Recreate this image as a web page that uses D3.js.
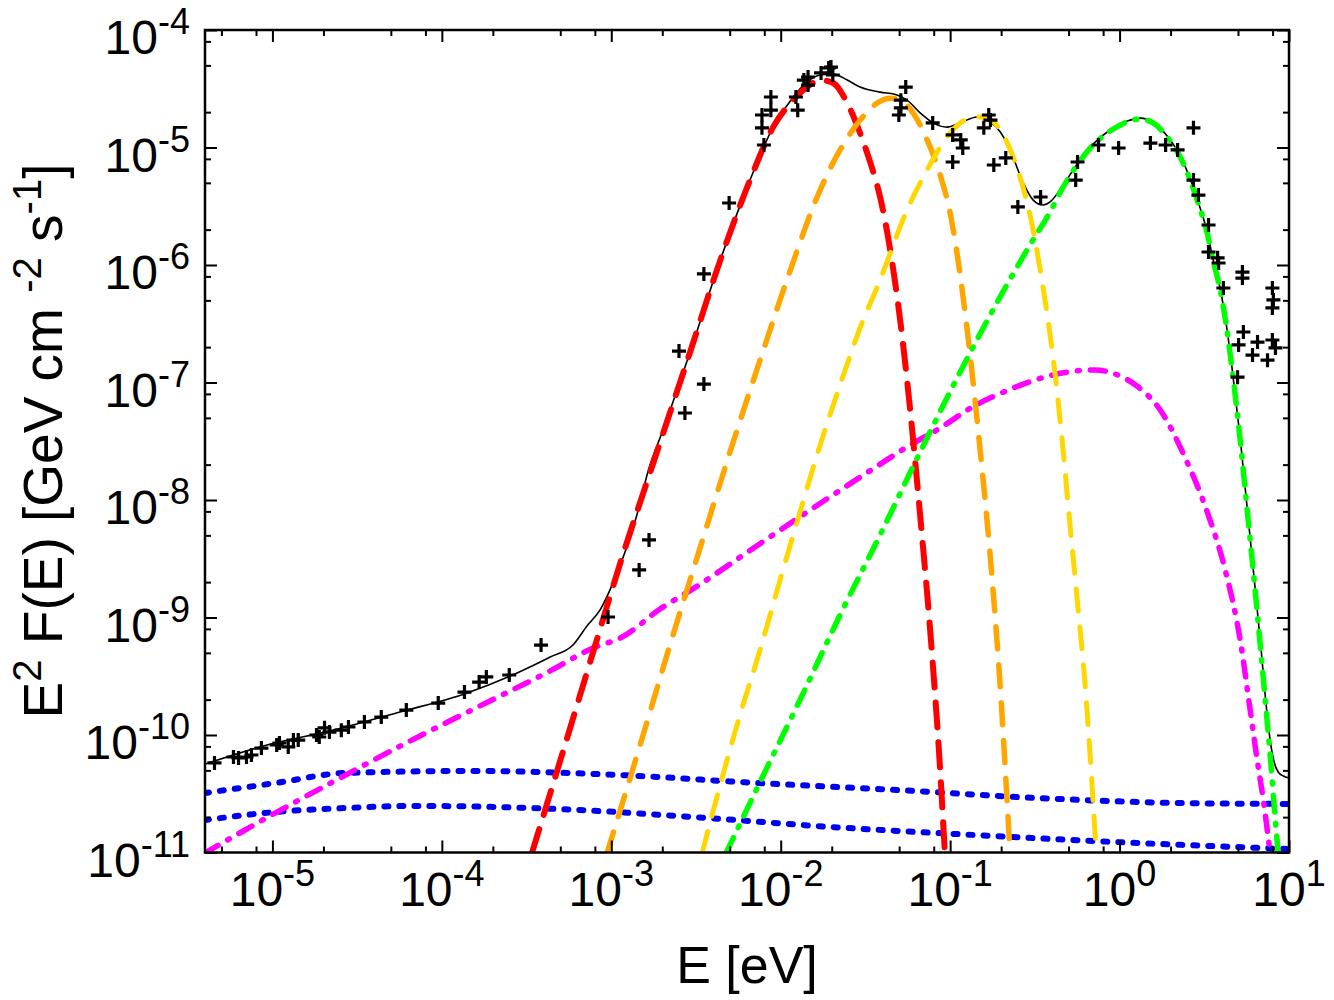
<!DOCTYPE html>
<html>
<head>
<meta charset="utf-8">
<script src="https://cdn.jsdelivr.net/npm/d3@7"></script>
<style>
  body { margin: 0; background: #fff; }
  svg { display: block; font-family: "Liberation Sans", Arial, Helvetica, sans-serif; }
  text { white-space: pre; }
</style>
</head>
<body>
<svg id="sed-chart"></svg>
<script>
// tick values and the exponents shown in the labels
var xTicks = [1e-5, 1e-4, 1e-3, 1e-2, 1e-1, 1, 10];
var xTickExps = ["-5", "-4", "-3", "-2", "-1", "0", "1"];
var yTicks = [1e-11, 1e-10, 1e-9, 1e-8, 1e-7, 1e-6, 1e-5, 1e-4];
var yTickExps = ["-11", "-10", "-9", "-8", "-7", "-6", "-5", "-4"];
var minorMantissas = [2, 5, 8];

// measured points [E (eV), E^2 F(E)]
var dataPoints = [
  [4.55e-6, 5.78e-11], [5.89e-6, 6.50e-11], [6.31e-6, 6.37e-11], [7.03e-6, 6.50e-11],
  [7.52e-6, 6.76e-11], [8.61e-6, 7.74e-11], [1.06e-5, 8.22e-11], [1.10e-5, 8.55e-11],
  [1.24e-5, 7.91e-11], [1.33e-5, 9.06e-11], [1.42e-5, 9.06e-11], [1.82e-5, 1.00e-10],
  [1.89e-5, 9.62e-11], [2.03e-5, 1.15e-10], [2.17e-5, 1.06e-10], [2.55e-5, 1.10e-10],
  [2.81e-5, 1.17e-10], [3.49e-5, 1.29e-10], [4.39e-5, 1.42e-10], [6.17e-5, 1.63e-10],
  [9.52e-5, 1.87e-10], [1.36e-4, 2.32e-10], [1.66e-4, 2.82e-10], [1.83e-4, 3.12e-10],
  [2.50e-4, 3.24e-10], [3.85e-4, 5.83e-10],
  [9.57e-4, 1.01e-9], [1.46e-3, 2.54e-9], [1.67e-3, 4.57e-9], [2.51e-3, 1.85e-7],
  [2.72e-3, 5.5e-8], [3.52e-3, 9.7e-8], [3.52e-3, 8.4e-7], [4.96e-3, 3.37e-6],
  [7.96e-3, 1.05e-5], [7.75e-3, 1.47e-5], [7.75e-3, 1.89e-5], [8.75e-3, 2.08e-5],
  [8.75e-3, 2.69e-5], [1.26e-2, 2.08e-5], [1.23e-2, 2.69e-5], [1.37e-2, 3.75e-5],
  [1.45e-2, 3.98e-5], [1.45e-2, 3.40e-5], [1.73e-2, 4.31e-5], [1.92e-2, 4.75e-5],
  [2.03e-2, 4.14e-5], [1.98e-2, 4.84e-5], [5.12e-2, 2.17e-5], [4.98e-2, 1.89e-5],
  [5.12e-2, 2.53e-5], [5.47e-2, 3.27e-5], [7.89e-2, 1.62e-5], [0.1035, 1.28e-5],
  [0.1155, 1.16e-5], [0.1187, 9.9e-6], [0.1035, 7.53e-6], [0.169, 1.89e-5],
  [0.173, 1.71e-5], [0.158, 1.47e-5], [0.181, 7.10e-6], [0.213, 8.15e-6],
  [0.251, 3.12e-6], [0.342, 3.79e-6],
  [0.551, 5.28e-6], [0.565, 7.53e-6], [0.751, 1.05e-5], [0.987, 9.9e-6],
  [1.52, 1.09e-5], [1.87, 1.05e-5], [2.20, 9.53e-6], [2.73, 1.47e-5],
  [2.73, 5.28e-6], [2.92, 3.94e-6], [3.35, 2.19e-6], [3.35, 1.29e-6],
  [3.79, 1.15e-6], [3.84, 1.04e-6], [4.10, 6.37e-7], [5.31, 8.7e-7],
  [5.31, 7.74e-7], [7.98, 6.37e-7], [8.09, 5.04e-7], [7.98, 4.31e-7],
  [5.38, 2.69e-7], [5.04, 2.09e-7], [6.52, 2.21e-7], [6.09, 1.71e-7],
  [7.98, 2.30e-7], [8.32, 1.97e-7], [7.47, 1.55e-7], [4.97, 1.11e-7]
];

// total model (thin black line)
var totalModel = [
  [4.0e-6, 5.66e-11], [9.29e-6, 8.22e-11], [2.28e-5, 1.10e-10], [5.66e-5, 1.57e-10],
  [1.41e-4, 2.28e-10], [2.78e-4, 3.37e-10], [4.36e-4, 4.61e-10], [5.94e-4, 5.83e-10],
  [7.19e-4, 8.47e-10], [8.59e-4, 1.16e-9], [1.04e-3, 2.08e-9], [1.40e-3, 7.03e-9],
  [1.67e-3, 1.87e-8], [2.02e-3, 3.94e-8], [2.92e-3, 1.82e-7], [4.51e-3, 1.22e-6],
  [6.59e-3, 5.28e-6], [9.02e-3, 1.49e-5], [1.14e-2, 2.49e-5], [1.43e-2, 3.61e-5],
  [1.71e-2, 4.14e-5], [2.04e-2, 4.22e-5], [2.47e-2, 3.75e-5], [2.94e-2, 3.27e-5],
  [3.86e-2, 2.96e-5], [4.86e-2, 2.80e-5], [5.57e-2, 2.53e-5], [6.65e-2, 1.97e-5],
  [7.94e-2, 1.62e-5], [9.59e-2, 1.49e-5], [0.1146, 1.62e-5], [0.1442, 1.82e-5],
  [0.1722, 1.65e-5], [0.1972, 1.36e-5], [0.226, 9.53e-6], [0.270, 4.99e-6],
  [0.309, 3.57e-6], [0.354, 3.24e-6], [0.389, 3.44e-6], [0.465, 4.80e-6],
  [0.562, 7.24e-6], [0.698, 1.07e-5], [0.879, 1.41e-5], [1.109, 1.68e-5],
  [1.321, 1.78e-5], [1.578, 1.65e-5], [1.910, 1.25e-5], [2.280, 8.47e-6],
  [2.61, 5.40e-6], [2.91, 3.44e-6], [3.29, 1.91e-6], [3.56, 1.12e-6],
  [3.93, 6.25e-7], [4.26, 3.15e-7], [4.62, 1.30e-7], [5.15, 3.37e-8],
  [5.74, 7.03e-9], [6.31, 1.78e-9], [6.85, 5.28e-10], [7.33, 1.80e-10],
  [7.74, 9.06e-11], [8.17, 5.89e-11], [8.63, 4.84e-11], [9.25, 4.48e-11], [10, 4.31e-11]
];

// components
var redComponent = [
  [3.40e-4, 9.9e-12], [4.99e-4, 6.01e-11], [7.50e-4, 4.18e-10], [1.16e-3, 3.27e-9],
  [1.81e-3, 2.28e-8], [2.92e-3, 1.82e-7], [4.51e-3, 1.22e-6], [6.59e-3, 5.28e-6],
  [9.02e-3, 1.49e-5], [1.14e-2, 2.39e-5], [1.43e-2, 3.27e-5], [1.71e-2, 3.75e-5],
  [2.04e-2, 3.54e-5], [2.47e-2, 2.39e-5], [2.94e-2, 1.33e-5], [3.37e-2, 7.53e-6],
  [3.86e-2, 3.79e-6], [4.43e-2, 1.34e-6], [5.07e-2, 3.40e-7], [5.81e-2, 5.83e-8],
  [6.65e-2, 7.45e-9], [7.62e-2, 7.83e-10], [8.73e-2, 5.04e-11], [9.33e-2, 9.3e-12]
];
var orangeComponent = [
  [9.44e-4, 9.9e-12], [1.48e-3, 8.22e-11], [2.22e-3, 5.83e-10], [3.34e-3, 3.90e-9],
  [5.02e-3, 2.56e-8], [7.55e-3, 1.55e-7], [1.14e-2, 9.06e-7], [1.64e-2, 3.79e-6],
  [2.24e-2, 9.53e-6], [2.94e-2, 1.71e-5], [3.71e-2, 2.39e-5], [4.43e-2, 2.63e-5],
  [5.07e-2, 2.53e-5], [6.04e-2, 1.97e-5], [7.31e-2, 1.16e-5], [8.73e-2, 5.83e-6],
  [0.100, 2.77e-6], [0.1146, 8.22e-7], [0.1312, 1.71e-7], [0.1503, 2.67e-8],
  [0.1722, 3.40e-9], [0.1972, 2.67e-10], [0.226, 9.5e-12]
];
var yellowComponent = [
  [3.44e-3, 9.9e-12], [4.39e-3, 3.75e-11], [5.75e-3, 1.48e-10], [7.55e-3, 5.28e-10],
  [9.91e-3, 2.08e-9], [1.30e-2, 7.91e-9], [1.71e-2, 2.94e-8], [2.24e-2, 9.53e-8],
  [2.94e-2, 2.91e-7], [3.86e-2, 7.45e-7], [5.57e-2, 2.94e-6], [7.31e-2, 6.44e-6],
  [9.59e-2, 1.23e-5], [0.1194, 1.68e-5], [0.1442, 1.82e-5], [0.1652, 1.78e-5],
  [0.1972, 1.41e-5], [0.2355, 8.30e-6], [0.270, 4.52e-6], [0.305, 2.19e-6],
  [0.340, 9.06e-7], [0.378, 3.40e-7], [0.417, 1.16e-7], [0.458, 3.24e-8],
  [0.510, 6.12e-9], [0.570, 1.16e-9], [0.627, 2.61e-10], [0.670, 6.76e-11], [0.728, 9.9e-12]
];
var greenComponent = [
  [4.76e-3, 9.9e-12], [7.55e-3, 3.98e-11], [1.30e-2, 1.99e-10], [2.24e-2, 1.05e-9],
  [3.86e-2, 5.04e-9], [6.65e-2, 2.56e-8], [0.1146, 1.23e-7], [0.1972, 5.35e-7],
  [0.296, 1.48e-6], [0.389, 2.83e-6], [0.465, 4.62e-6], [0.562, 7.10e-6],
  [0.698, 1.05e-5], [0.879, 1.38e-5], [1.109, 1.65e-5], [1.321, 1.75e-5],
  [1.578, 1.62e-5], [1.910, 1.23e-5], [2.280, 8.30e-6], [2.61, 5.28e-6],
  [2.91, 3.37e-6], [3.29, 1.87e-6], [3.56, 1.10e-6], [3.93, 6.12e-7],
  [4.26, 3.08e-7], [4.62, 1.28e-7], [5.15, 3.24e-8], [5.74, 6.76e-9],
  [6.31, 1.71e-9], [6.85, 4.80e-10], [7.33, 1.63e-10], [7.74, 6.76e-11],
  [8.17, 2.54e-11], [8.63, 9.9e-12]
];
var magentaComponent = [
  [4.0e-6, 9.9e-12], [9.68e-6, 2.05e-11], [2.51e-5, 4.31e-11], [6.49e-5, 8.89e-11],
  [1.68e-4, 1.77e-10], [4.36e-4, 3.51e-10], [7.80e-4, 5.50e-10], [1.16e-3, 6.82e-10],
  [1.94e-3, 1.18e-9], [3.08e-3, 1.78e-9], [7.66e-3, 4.31e-9], [1.91e-2, 1.04e-8],
  [3.56e-2, 1.87e-8], [5.57e-2, 2.83e-8], [8.73e-2, 4.10e-8], [0.1387, 6.31e-8],
  [0.214, 8.47e-8], [0.344, 1.09e-7], [0.540, 1.25e-7], [0.718, 1.28e-7],
  [0.942, 1.18e-7], [1.288, 9.16e-8], [1.738, 5.83e-8], [2.44, 2.28e-8],
  [3.29, 7.91e-9], [4.20, 2.54e-9], [5.15, 6.44e-10], [5.90, 1.63e-10],
  [6.49, 6.12e-11], [7.05, 2.80e-11], [7.74, 9.9e-12]
];
var blueUpper = [
  [4.0e-6, 3.21e-11], [1.04e-5, 3.90e-11], [2.68e-5, 4.75e-11], [1.49e-4, 4.94e-11],
  [1.10e-3, 4.57e-11], [7.35e-3, 3.90e-11], [4.93e-2, 3.40e-11], [0.326, 2.91e-11],
  [2.19, 2.64e-11], [10, 2.59e-11]
];
var blueLower = [
  [4.0e-6, 1.89e-11], [1.04e-5, 2.21e-11], [2.68e-5, 2.39e-11], [6.95e-5, 2.49e-11],
  [4.66e-4, 2.35e-11], [3.13e-3, 2.00e-11], [2.09e-2, 1.64e-11], [0.1387, 1.41e-11],
  [0.929, 1.23e-11], [10, 1.07e-11]
];

var xTitle = "E [eV]";

function drawChart() {
  var width = 1334, height = 1000;
  var plot = {left: 205, right: 1289, top: 30, bottom: 852.5};

  var svg = d3.select("#sed-chart")
      .attr("width", width)
      .attr("height", height);

  svg.append("rect")
      .attr("width", width)
      .attr("height", height)
      .attr("fill", "#fff");

  // log scales on both axes
  var x = d3.scaleLog().domain([4e-6, 10]).range([plot.left, plot.right]);
  var y = d3.scaleLog().domain([1e-11, 1e-4]).range([plot.bottom, plot.top]);

  var xMinor = [], yMinor = [];
  d3.range(-6, 1).forEach(function(p) {
    minorMantissas.forEach(function(m) {
      var v = m * Math.pow(10, p);
      if (v > 4e-6 && v < 10) xMinor.push(v);
    });
  });
  d3.range(-11, -4).forEach(function(p) {
    minorMantissas.forEach(function(m) { yMinor.push(m * Math.pow(10, p)); });
  });

  svg.append("clipPath").attr("id", "plot-clip")
    .append("rect")
      .attr("x", plot.left)
      .attr("y", plot.top)
      .attr("width", plot.right - plot.left)
      .attr("height", plot.bottom - plot.top);

  var line = d3.line()
      .x(function(d) { return x(d[0]); })
      .y(function(d) { return y(d[1]); })
      .curve(d3.curveMonotoneX);

  var curves = svg.append("g").attr("clip-path", "url(#plot-clip)");

  // black total first, the dashed components go over it
  curves.append("path")
      .datum(totalModel)
      .attr("d", line)
      .attr("fill", "none")
      .attr("stroke", "#000")
      .attr("stroke-width", 1.6);

  var series = [
    {data: blueUpper, color: "#0000ee", width: 6, dash: "4,11"},
    {data: blueLower, color: "#0000ee", width: 6, dash: "4,11"},
    {data: magentaComponent, color: "#ff00ff", width: 5.5, dash: "15,11,2,11"},
    {data: redComponent, color: "#ff0000", width: 6, dash: "25,15"},
    {data: orangeComponent, color: "#ffa500", width: 5.5, dash: "22,16"},
    {data: yellowComponent, color: "#ffd700", width: 5, dash: "22,16"},
    {data: greenComponent, color: "#00ff00", width: 5.5, dash: "17,11,2,11"}
  ];

  series.forEach(function(s) {
    curves.append("path")
        .datum(s.data)
        .attr("d", line)
        .attr("fill", "none")
        .attr("stroke", s.color)
        .attr("stroke-width", s.width)
        .attr("stroke-dasharray", s.dash)
        .attr("stroke-linecap", "round");
  });

  // data crosses
  svg.append("g").selectAll("path")
      .data(dataPoints)
      .join("path")
      .attr("transform", function(d) { return "translate(" + x(d[0]) + "," + y(d[1]) + ")"; })
      .attr("d", "M-7,0H7M0,-7V7")
      .attr("stroke", "#000")
      .attr("stroke-width", 3.2);

  // ticks on all four sides, pointing inward
  function addTicks(axis, translate, values, size) {
    var g = svg.append("g")
        .attr("transform", translate)
        .call(axis.tickValues(values).tickSize(size).tickSizeOuter(0).tickFormat(""));
    g.select(".domain").remove();
    g.selectAll("line").attr("stroke-width", 2);
  }
  addTicks(d3.axisBottom(x), "translate(0," + plot.bottom + ")", xTicks, -12);
  addTicks(d3.axisBottom(x), "translate(0," + plot.bottom + ")", xMinor, -6);
  addTicks(d3.axisTop(x), "translate(0," + plot.top + ")", xTicks, -12);
  addTicks(d3.axisTop(x), "translate(0," + plot.top + ")", xMinor, -6);
  addTicks(d3.axisLeft(y), "translate(" + plot.left + ",0)", yTicks, -12);
  addTicks(d3.axisLeft(y), "translate(" + plot.left + ",0)", yMinor, -6);
  addTicks(d3.axisRight(y), "translate(" + plot.right + ",0)", yTicks, -12);
  addTicks(d3.axisRight(y), "translate(" + plot.right + ",0)", yMinor, -6);

  // frame
  svg.append("rect")
      .attr("x", plot.left)
      .attr("y", plot.top)
      .attr("width", plot.right - plot.left)
      .attr("height", plot.bottom - plot.top)
      .attr("fill", "none")
      .attr("stroke", "#000")
      .attr("stroke-width", 2.5);

  // tick labels as 10^n
  var xLabels = svg.append("g").selectAll("text")
      .data(xTicks)
      .join("text")
      .attr("x", function(d) { return x(d); })
      .attr("y", plot.bottom + 53)
      .attr("text-anchor", "middle")
      .style("font-size", "48px");
  xLabels.append("tspan").text("10");
  xLabels.append("tspan")
      .attr("dy", -20)
      .style("font-size", "36px")
      .text(function(d, i) { return xTickExps[i]; });

  var yLabels = svg.append("g").selectAll("text")
      .data(yTicks)
      .join("text")
      .attr("x", plot.left - 15)
      .attr("y", function(d) { return y(d) + 24; })
      .attr("text-anchor", "end")
      .style("font-size", "48px");
  yLabels.append("tspan").text("10");
  yLabels.append("tspan")
      .attr("dy", -20)
      .style("font-size", "36px")
      .text(function(d, i) { return yTickExps[i]; });

  // axis titles
  svg.append("text")
      .attr("x", (plot.left + plot.right) / 2)
      .attr("y", 983)
      .attr("text-anchor", "middle")
      .style("font-size", "52px")
      .text(xTitle);

  var yTitle = svg.append("text")
      .attr("transform", "translate(62,441) rotate(-90)")
      .attr("text-anchor", "middle")
      .style("font-size", "55px");
  var yParts = [["E", 0], ["2", 1], [" F(E) [GeV cm ", 0], ["-2", 1], [" s", 0], ["-1", 1], ["]", 0]];
  var raised = false;
  yParts.forEach(function(p) {
    var t = yTitle.append("tspan").text(p[0]);
    if (p[1] && !raised) { t.attr("dy", -21).style("font-size", "40px"); raised = true; }
    else if (p[1]) { t.style("font-size", "40px"); }
    else if (raised) { t.attr("dy", 21); raised = false; }
  });
}

drawChart();
</script>
</body>
</html>
